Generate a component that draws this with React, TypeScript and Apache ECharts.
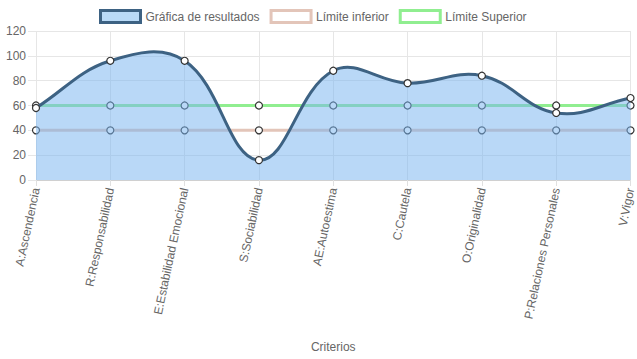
import React, { useEffect, useRef } from "react";
import * as echarts from "echarts";

const categories = [
  "A:Ascendencia",
  "R:Responsabilidad",
  "E:Estabilidad Emocional",
  "S:Sociabilidad",
  "AE:Autoestima",
  "C:Cautela",
  "O:Originalidad",
  "P:Relaciones Personales",
  "V:Vigor",
];
const resultados = [58, 96, 96, 16, 88, 78, 84, 54, 66];
const limiteInferior = [40, 40, 40, 40, 40, 40, 40, 40, 40];
const limiteSuperior = [60, 60, 60, 60, 60, 60, 60, 60, 60];
const yTicks = { min: 0, max: 120, interval: 20 };

const FONT = "'Liberation Sans', Arial, Helvetica, sans-serif";
const TXT = "#666";
const TENSION = 0.4;

function splinePath(pts: number[][]): string {
  const n = pts.length;
  const cps: { p: number[]; n: number[] }[] = [];
  for (let i = 0; i < n; i++) {
    const cur = pts[i];
    const prev = i > 0 ? pts[i - 1] : cur;
    const next = i < n - 1 ? pts[i + 1] : cur;
    const d01 = Math.hypot(cur[0] - prev[0], cur[1] - prev[1]);
    const d12 = Math.hypot(next[0] - cur[0], next[1] - cur[1]);
    const tot = d01 + d12 || 1;
    const fa = (TENSION * d01) / tot;
    const fb = (TENSION * d12) / tot;
    cps.push({
      p: [cur[0] - fa * (next[0] - prev[0]), cur[1] - fa * (next[1] - prev[1])],
      n: [cur[0] + fb * (next[0] - prev[0]), cur[1] + fb * (next[1] - prev[1])],
    });
  }
  let d = `M${pts[0][0]} ${pts[0][1]}`;
  for (let i = 1; i < n; i++) {
    const a = cps[i - 1].n;
    const b = cps[i].p;
    d += ` C${a[0]} ${a[1]} ${b[0]} ${b[1]} ${pts[i][0]} ${pts[i][1]}`;
  }
  return d;
}

export default function App() {
  const ref = useRef<HTMLDivElement>(null);
  useEffect(() => {
    if (!ref.current) return;
    const chart = echarts.init(ref.current, undefined, { renderer: "svg" });
    const symbolStyle = { color: "#fff", borderColor: "#333", borderWidth: 1.2 };
    chart.setOption({
      animation: false,
      textStyle: { fontFamily: FONT },
      legend: {
        top: 4,
        left: 94,
        icon: "rect",
        itemWidth: 40,
        itemHeight: 12,
        itemGap: 10,
        textStyle: { fontSize: 12, color: TXT, fontFamily: FONT },
        data: [
          {
            name: "Gráfica de resultados",
            itemStyle: { color: "#b9daf7", borderColor: "#3d6283", borderWidth: 3 },
          },
          {
            name: "Límite inferior",
            itemStyle: { color: "#fff", borderColor: "#e3c5b9", borderWidth: 3 },
          },
          {
            name: "Límite Superior",
            itemStyle: { color: "#fff", borderColor: "#90ee90", borderWidth: 3 },
          },
        ],
      },
      grid: { left: 36, right: 4, top: 31, bottom: 179, containLabel: false },
      xAxis: {
        type: "category",
        data: categories,
        boundaryGap: false,
        name: "Criterios",
        nameLocation: "middle",
        nameGap: 161,
        nameTextStyle: { fontSize: 12, color: TXT, fontFamily: FONT },
        axisLine: { show: true, lineStyle: { color: "#d0d0d0", width: 1 } },
        axisTick: { show: true, length: 6, lineStyle: { color: "#e0e0e0" } },
        splitLine: { show: true, lineStyle: { color: "#e6e6e6" } },
        axisLabel: {
          rotate: 78,
          fontSize: 12,
          color: TXT,
          margin: 8,
          fontFamily: FONT,
          interval: 0,
        },
      },
      yAxis: {
        type: "value",
        min: yTicks.min,
        max: yTicks.max,
        interval: yTicks.interval,
        axisLine: { show: false },
        axisTick: { show: true, length: 8, lineStyle: { color: "#e6e6e6" } },
        splitLine: { show: true, lineStyle: { color: "#e6e6e6" } },
        axisLabel: { fontSize: 12, color: TXT, margin: 10, fontFamily: FONT },
      },
      series: [
        {
          name: "Límite Superior",
          type: "line",
          data: limiteSuperior,
          z: 2,
          symbol: "circle",
          symbolSize: 7,
          showAllSymbol: true,
          lineStyle: { color: "#90ee90", width: 3 },
          itemStyle: symbolStyle,
        },
        {
          name: "Límite inferior",
          type: "line",
          data: limiteInferior,
          z: 2,
          symbol: "circle",
          symbolSize: 7,
          showAllSymbol: true,
          lineStyle: { color: "#e3c5b9", width: 3 },
          itemStyle: symbolStyle,
        },
        {
          name: "Gráfica de resultados",
          type: "custom",
          z: 3,
          clip: false,
          data: resultados.map((v, i) => [i, v]),
          itemStyle: { color: "#b9daf7", borderColor: "#3d6283" },
          renderItem: (params: any, api: any) => {
            if (params.dataIndex !== 0) return null;
            const pts = resultados.map((v, i) => api.coord([i, v]));
            const base = api.coord([0, 0])[1];
            const curve = splinePath(pts);
            const last = pts[pts.length - 1];
            const area = `${curve} L${last[0]} ${base} L${pts[0][0]} ${base} Z`;
            return {
              type: "group",
              children: [
                {
                  type: "path",
                  shape: { pathData: area },
                  style: { fill: "rgba(120,180,240,0.52)", stroke: "none" },
                },
                {
                  type: "path",
                  shape: { pathData: curve },
                  style: { fill: "none", stroke: "#3d6283", lineWidth: 3 },
                },
              ],
            };
          },
        },
        {
          name: "Gráfica de resultados",
          type: "line",
          data: resultados,
          z: 4,
          symbol: "circle",
          symbolSize: 7,
          showAllSymbol: true,
          lineStyle: { width: 0, opacity: 0 },
          itemStyle: symbolStyle,
        },
      ],
    });
    return () => chart.dispose();
  }, []);
  return (
    <div
      ref={ref}
      style={{ position: "absolute", left: 0, top: 0, width: 637, height: 359 }}
    />
  );
}
